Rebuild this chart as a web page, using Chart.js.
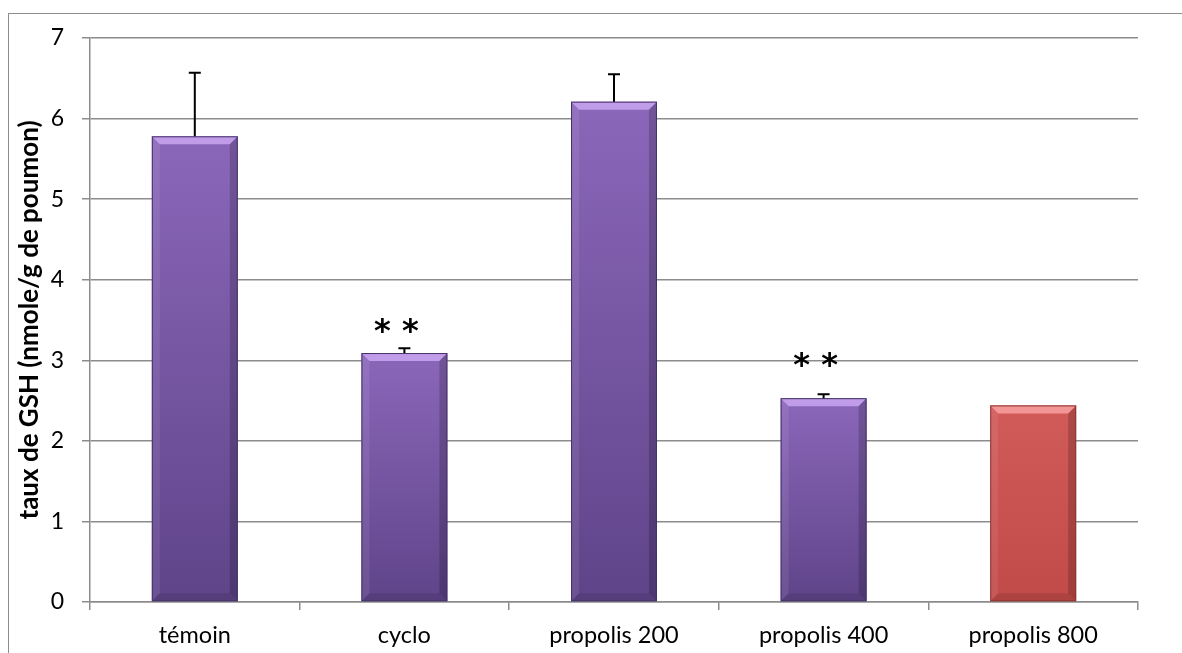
<!DOCTYPE html>
<html>
<head>
<meta charset="utf-8">
<script src="https://cdn.jsdelivr.net/npm/chart.js@4.4.1/dist/chart.umd.min.js"></script>
<style>
  html, body { margin: 0; padding: 0; background: #fff; overflow: hidden; }
  #wrap { position: relative; width: 1182px; height: 653px; }
  #frame { position: absolute; left: 8px; top: 13px; width: 1190px; height: 660px; border: 1.5px solid #8c8c8c; box-sizing: border-box; }
  canvas { position: absolute; left: 0; top: 0; }
</style>
</head>
<body>
<div id="wrap">
  <div id="frame"></div>
  <canvas id="gsh" width="1182" height="653"></canvas>
</div>
<script>
const groups = ["témoin", "cyclo", "propolis 200", "propolis 400", "propolis 800"];
const gshMean = [5.78, 3.09, 6.21, 2.53, 2.44];
const gshErr = [0.79, 0.06, 0.34, 0.05, 0];
const stars = ["", "* *", "", "* *", ""];
const starLevel = [null, 3.42, null, 3.0, null];
const yTicks = [0, 1, 2, 3, 4, 5, 6, 7];

const purple = ['#8b67ba', '#5f4489'];
const red = ['#d15b59', '#c14b49'];

function barFill(context) {
  const chart = context.chart;
  const area = chart.chartArea;
  if (!area) return purple[0];
  const i = context.dataIndex;
  const ys = chart.scales.y;
  const top = ys.getPixelForValue(gshMean[i]);
  const base = ys.getPixelForValue(0);
  const c = i === 4 ? red : purple;
  const g = chart.ctx.createLinearGradient(0, top, 0, base);
  g.addColorStop(0, c[0]);
  g.addColorStop(1, c[1]);
  return g;
}

// bevel look of the bars
const bevel = {
  id: 'bevel',
  afterDatasetsDraw(chart) {
    const ctx = chart.ctx;
    chart.getDatasetMeta(0).data.forEach((bar, i) => {
      const l = bar.x - bar.width / 2, r = bar.x + bar.width / 2;
      const t = bar.y, b = bar.base, d = 8;
      const hi = i === 4 ? 'rgba(255,170,170,0.75)' : 'rgba(205,170,245,0.8)';
      ctx.save();
      ctx.fillStyle = hi;
      ctx.beginPath();
      ctx.moveTo(l, t); ctx.lineTo(r, t); ctx.lineTo(r - d, t + d); ctx.lineTo(l + d, t + d); ctx.closePath();
      ctx.fill();
      ctx.fillStyle = 'rgba(255,255,255,0.08)';
      ctx.beginPath();
      ctx.moveTo(l, t); ctx.lineTo(l + d, t + d); ctx.lineTo(l + d, b - d); ctx.lineTo(l, b); ctx.closePath();
      ctx.fill();
      ctx.fillStyle = 'rgba(0,0,0,0.18)';
      ctx.beginPath();
      ctx.moveTo(r, t); ctx.lineTo(r - d, t + d); ctx.lineTo(r - d, b - d); ctx.lineTo(r, b); ctx.closePath();
      ctx.fill();
      ctx.fillStyle = 'rgba(0,0,0,0.1)';
      ctx.beginPath();
      ctx.moveTo(l, b); ctx.lineTo(l + d, b - d); ctx.lineTo(r - d, b - d); ctx.lineTo(r, b); ctx.closePath();
      ctx.fill();
      ctx.strokeStyle = i === 4 ? '#8e3432' : '#45326a';
      ctx.lineWidth = 1;
      ctx.strokeRect(l + 0.5, t + 0.5, bar.width - 1, b - t - 1);
      ctx.restore();
    });
  }
};

// upper error bars and significance stars
const extras = {
  id: 'extras',
  afterDatasetsDraw(chart) {
    const ctx = chart.ctx;
    const ys = chart.scales.y;
    chart.getDatasetMeta(0).data.forEach((bar, i) => {
      ctx.save();
      if (gshErr[i] > 0) {
        const y0 = ys.getPixelForValue(gshMean[i]);
        const y1 = ys.getPixelForValue(gshMean[i] + gshErr[i]);
        ctx.strokeStyle = '#000';
        ctx.lineWidth = 2;
        ctx.beginPath();
        ctx.moveTo(bar.x, y0); ctx.lineTo(bar.x, y1);
        ctx.moveTo(bar.x - 6, y1); ctx.lineTo(bar.x + 6, y1);
        ctx.stroke();
      }
      if (stars[i]) {
        ctx.fillStyle = '#000';
        ctx.font = 'bold 32px "DejaVu Sans"';
        ctx.textAlign = 'center';
        ctx.textBaseline = 'middle';
        ctx.fillText(stars[i], bar.x - 8, ys.getPixelForValue(starLevel[i]) + 6);
      }
      ctx.restore();
    });
  }
};

new Chart(document.getElementById('gsh').getContext('2d'), {
  type: 'bar',
  data: {
    labels: groups,
    datasets: [{
      data: gshMean,
      backgroundColor: barFill,
      borderWidth: 0,
      barPercentage: 0.82,
      categoryPercentage: 0.5
    }]
  },
  options: {
    responsive: false,
    animation: false,
    layout: { padding: { left: 8, top: 38, right: 44, bottom: 0 } },
    plugins: {
      legend: { display: false },
      tooltip: { enabled: false }
    },
    scales: {
      x: {
        afterFit: s => { s.height = 51; },
        grid: { drawOnChartArea: false, drawTicks: true, tickLength: 8, color: '#8c8c8c', lineWidth: 1.5, offset: true },
        border: { color: '#8c8c8c', width: 1.5 },
        ticks: { color: '#000', font: { family: 'Lato', size: 23.5 }, padding: 11 }
      },
      y: {
        min: 0,
        max: 7,
        afterFit: s => { s.width = 82; },
        afterBuildTicks: s => { s.ticks = yTicks.map(v => ({ value: v })); },
        grid: { color: '#8c8c8c', lineWidth: 1.5, tickLength: 8 },
        border: { color: '#8c8c8c', width: 1.5 },
        ticks: { color: '#000', font: { family: 'Lato', size: 23 }, padding: 18 },
        title: {
          display: true,
          text: 'taux de GSH (nmole/g de poumon)',
          color: '#000',
          font: { family: 'Lato', size: 26, weight: 'bold' },
          padding: { top: 6, bottom: 0 }
        }
      }
    }
  },
  plugins: [bevel, extras]
});
</script>
</body>
</html>
